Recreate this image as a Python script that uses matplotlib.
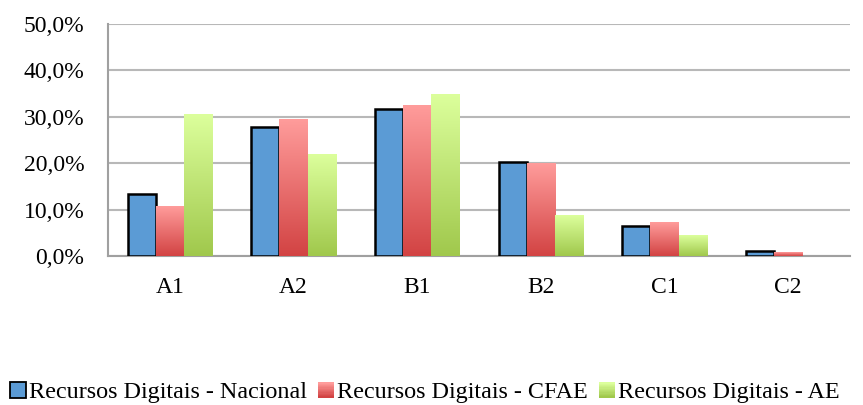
import matplotlib
matplotlib.use("Agg")
import matplotlib.pyplot as plt
import numpy as np
from matplotlib.patches import Rectangle
from matplotlib.colors import LinearSegmentedColormap
from matplotlib.legend_handler import HandlerBase

categories = ["A1", "A2", "B1", "B2", "C1", "C2"]
nacional = [13.3, 27.7, 31.6, 20.2, 6.5, 1.0]
cfae = [10.6, 29.5, 32.5, 20.0, 7.3, 0.8]
ae = [30.6, 21.8, 34.9, 8.8, 4.4, 0.0]
series_names = ["Recursos Digitais - Nacional", "Recursos Digitais - CFAE", "Recursos Digitais - AE"]
yticks = [0, 10, 20, 30, 40, 50]

plt.rcParams['font.family'] = ['Liberation Serif', 'DejaVu Serif']
FS = 17

fig = plt.figure(figsize=(8.63, 4.05), dpi=100)
ax = fig.add_axes([0.1251, 0.368, 0.8599, 0.5727])

blue = "#5B9BD5"
red_cmap = LinearSegmentedColormap.from_list("r", ["#D24343", "#FF9C9B"])
green_cmap = LinearSegmentedColormap.from_list("g", ["#A0C84C", "#DCFF9C"])

x = np.arange(len(categories))
w = 0.227
grad = np.linspace(0, 1, 256).reshape(-1, 1)

ax.set_xlim(-0.5, len(categories) - 0.5)
ax.set_ylim(0, 50)

for i in range(len(categories)):
    ax.add_patch(Rectangle((x[i] - 1.5 * w, 0), w, nacional[i], facecolor=blue,
                           edgecolor="black", linewidth=1.8, zorder=3))
    for val, cmap, off in ((cfae[i], red_cmap, -0.5 * w), (ae[i], green_cmap, 0.5 * w)):
        if val <= 0:
            continue
        ax.imshow(grad, cmap=cmap, origin="lower", aspect="auto",
                  extent=(x[i] + off, x[i] + off + w, 0, val), zorder=3,
                  interpolation="bilinear")

ax.set_xlim(-0.5, len(categories) - 0.5)
ax.set_ylim(0, 50)

ax.set_yticks(yticks)
ax.set_yticklabels([f"{v:.1f}%".replace(".", ",") for v in yticks], fontsize=FS)
ax.set_xticks(x)
ax.set_xticklabels(categories, fontsize=FS)
ax.tick_params(axis="x", length=0, pad=15)
ax.tick_params(axis="y", length=0, pad=17)
ax.grid(axis="y", color="#B8B8B8", linewidth=1.5, zorder=0)
ax.set_axisbelow(True)
for s in ["top", "right"]:
    ax.spines[s].set_visible(False)
for s in ["left", "bottom"]:
    ax.spines[s].set_color("#A0A0A0")
    ax.spines[s].set_linewidth(1.5)


class GradHandler(HandlerBase):
    def __init__(self, cmap):
        super().__init__()
        self.cmap = cmap

    def create_artists(self, legend, orig_handle, xdescent, ydescent, width, height, fontsize, trans):
        arts = []
        n = 12
        s = height
        x0 = -xdescent + (width - s)
        for k in range(n):
            arts.append(Rectangle((x0, -ydescent + k * s / n), s, s / n + 0.3,
                                  facecolor=self.cmap(k / (n - 1)), edgecolor="none", transform=trans))
        return arts


class BlueHandler(HandlerBase):
    def create_artists(self, legend, orig_handle, xdescent, ydescent, width, height, fontsize, trans):
        s = height
        x0 = -xdescent + (width - s)
        return [Rectangle((x0, -ydescent), s, s, facecolor=blue, edgecolor="black",
                          linewidth=1.3, transform=trans)]


h1 = Rectangle((0, 0), 1, 1)
h2 = Rectangle((0, 0), 1, 1)
h3 = Rectangle((0, 0), 1, 1)
fig.legend([h1, h2, h3], series_names,
           handler_map={h1: BlueHandler(), h2: GradHandler(red_cmap), h3: GradHandler(green_cmap)},
           loc="center", bbox_to_anchor=(0.493, 0.03), ncol=3, frameon=False, fontsize=17.4,
           handlelength=0.6, handleheight=0.6, handletextpad=0.15, columnspacing=0.5,
           borderpad=0.1)

fig.savefig("out.png", dpi=100)
